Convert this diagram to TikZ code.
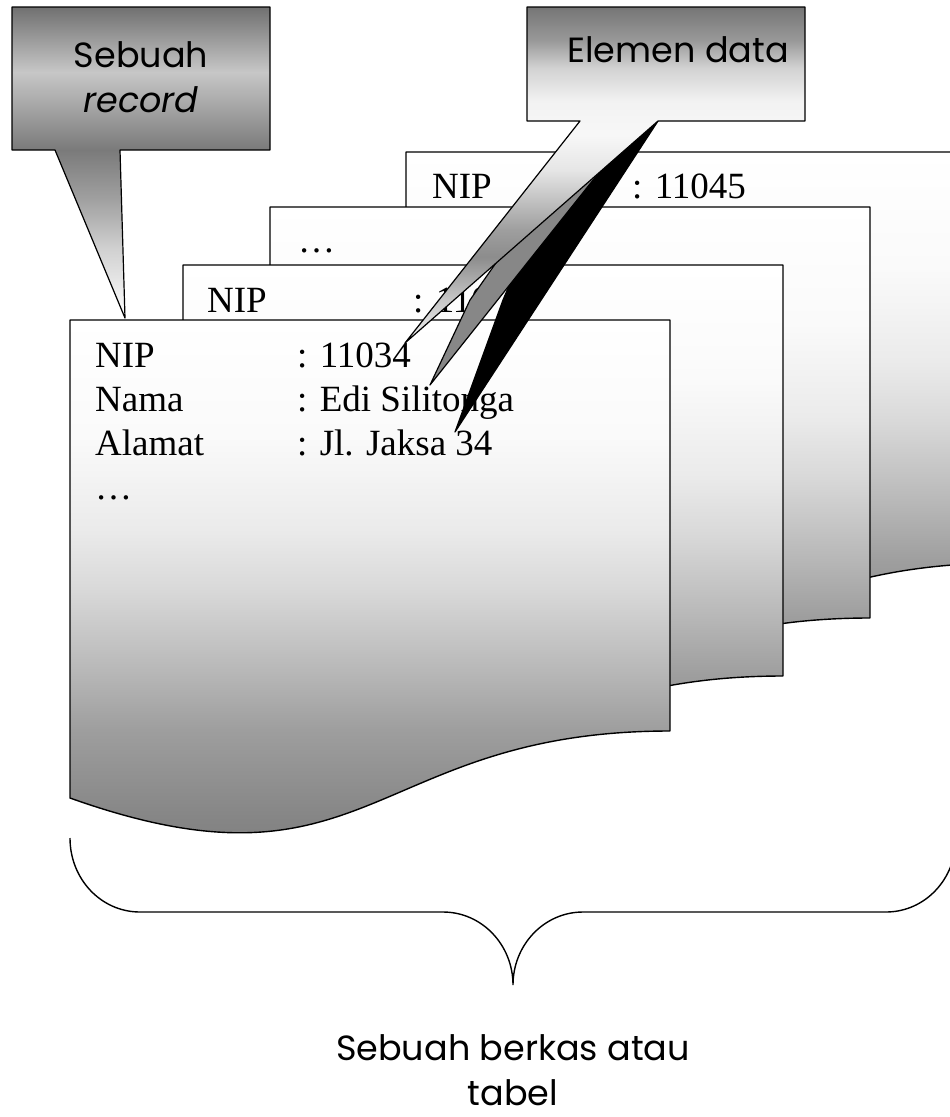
\documentclass[tikz,border=0pt]{standalone}
\usepackage{fontspec}
\setmainfont{Liberation Serif}
\newfontfamily\comicfont{Poppins}
\pgfdeclareverticalshading{pageshade}{100bp}{rgb(0bp)=(.46,.46,.46); rgb(25bp)=(.46,.46,.46); rgb(28bp)=(.48,.48,.48); rgb(33bp)=(.53,.53,.53); rgb(40bp)=(.62,.62,.62); rgb(45bp)=(.72,.72,.72); rgb(52bp)=(.85,.85,.85); rgb(57bp)=(.92,.92,.92); rgb(65bp)=(.98,.98,.98); rgb(75bp)=(1,1,1); rgb(100bp)=(1,1,1)}
\pgfdeclareverticalshading{calloutA}{100bp}{rgb(0bp)=(1,1,1); rgb(25bp)=(1,1,1); rgb(36bp)=(.82,.82,.82); rgb(44bp)=(.63,.63,.63); rgb(52bp)=(.48,.48,.48); rgb(64.5bp)=(.78,.78,.78); rgb(75bp)=(.44,.44,.44); rgb(100bp)=(.44,.44,.44)}
\pgfdeclareverticalshading{calloutB}{100bp}{rgb(0bp)=(.95,.95,.95); rgb(25bp)=(.95,.95,.95); rgb(31.4bp)=(.78,.78,.78); rgb(37.8bp)=(.55,.55,.55); rgb(41.8bp)=(.62,.62,.62); rgb(50.7bp)=(.9,.9,.9); rgb(56bp)=(.97,.97,.97); rgb(61bp)=(.95,.95,.95); rgb(66bp)=(.82,.82,.82); rgb(70bp)=(.6,.6,.6); rgb(75bp)=(.46,.46,.46); rgb(100bp)=(.46,.46,.46)}
\definecolor{wedgegray}{gray}{0.53}
\newcommand\docpage[2]{\path[pageframe] (#1,#2) -- (#1+600,#2) -- (#1+600,#2+411) .. controls (#1+300,#2+411) and (#1+300,#2+585) .. (#1,#2+478) -- cycle;}
\begin{document}
\begin{tikzpicture}[x=1pt,y=-1pt,
  pageframe/.style={draw=black, line width=1.4pt, line join=round, shading=pageshade},
  calloutframe/.style={draw=black, line width=1.2pt, line join=round},
  rec/.style={font=\fontsize{37}{42}\selectfont, anchor=base west, inner sep=0pt},
  lbl/.style={font=\comicfont\fontsize{35}{40}\selectfont, anchor=base, inner sep=0pt, text depth=0pt},
  bracestyle/.style={draw=black, line width=1.4pt}]
\useasboundingbox (0,0) rectangle (950,1117);
% stacked record pages, back to front
\begin{scope}
\clip (0,0) rectangle (950,1117);
\docpage{406}{152}
\end{scope}
\node[rec] (p4a) at (432,198) {NIP};
\node[rec] (p4b) at (632,198) {: 11045};
\docpage{270}{207}
\node[rec] (p3a) at (298,252) {…};
\docpage{183}{265}
\node[rec] (p2a) at (207,312) {NIP};
\node[rec] (p2b) at (413,312) {: 110};
\docpage{70}{320}
\node[rec] (n1) at (95,367) {NIP};
\node[rec] (v1) at (297,367) {: 11034};
\node[rec] (n2) at (95,411) {Nama};
\node[rec] (v2) at (297,411) {: Edi Silitonga};
\node[rec] (n3) at (95,455) {Alamat};
\node[rec] (v3) at (297,455) {: Jl. Jaksa 34};
\node[rec] (n4) at (95,499) {…};
% callout: Elemen data (three pointers)
\path[calloutframe, fill=black] (610,121) -- (658,121) -- (455,432) -- (503,300) -- (545,200) -- cycle;
\path[calloutframe, fill=wedgegray] (600,121) -- (640,121) -- (430,385) -- (470,300) -- (540,200) -- cycle;
\path[calloutframe, shading=calloutB] (527,7) -- (805,7) -- (805,121) -- (658,121) -- (405,343) -- (580,121) -- (527,121) -- cycle;
\node[lbl] (elemen) at (678,62) {Elemen data};
% callout: Sebuah record
\path[calloutframe, shading=calloutA] (12,7) -- (270,7) -- (270,150) -- (120,150) -- (125,318) -- (55,150) -- (12,150) -- cycle;
\node[lbl] (sebuah) at (141,67) {Sebuah};
\node[lbl, font=\comicfont\itshape\fontsize{35}{40}\selectfont] (record) at (141,112) {record};
% brace
\draw[bracestyle] (70,838) .. controls (70,879) and (101,912) .. (140,912) -- (443,912) .. controls (482,912) and (513,945) .. (513,985) .. controls (513,945) and (544,912) .. (583,912) -- (886,912) .. controls (925,912) and (956,879) .. (956,838);
\node[lbl] (berkas) at (513,1060) {Sebuah berkas atau};
\node[lbl] (tabel) at (513,1105) {tabel};
\end{tikzpicture}
\end{document}
